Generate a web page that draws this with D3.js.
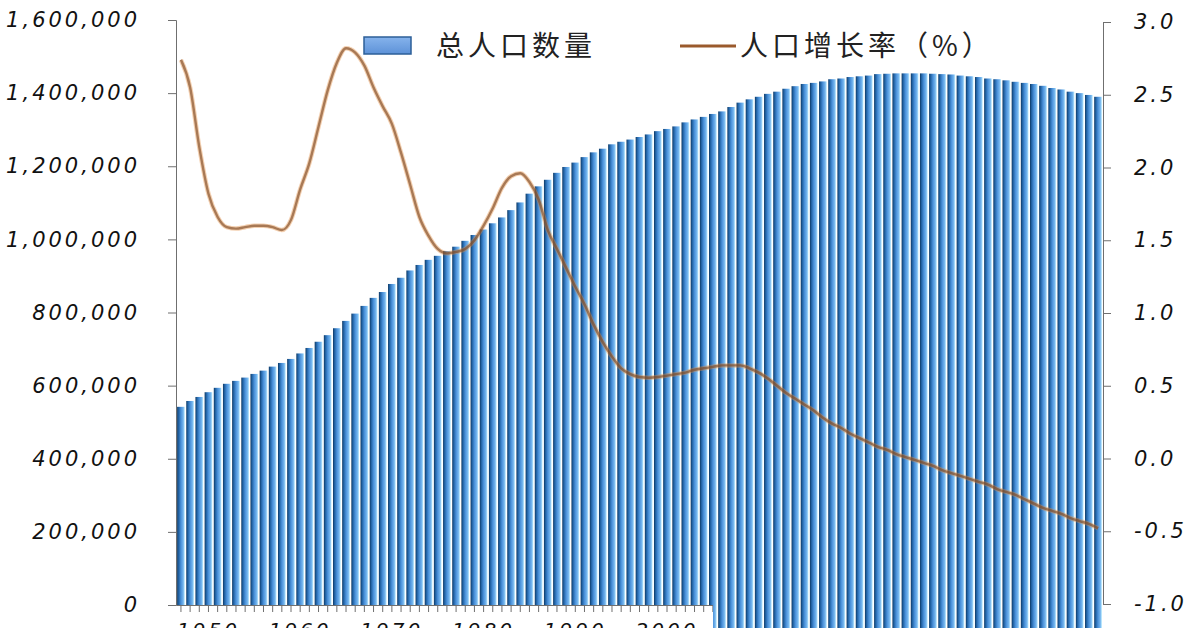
<!DOCTYPE html>
<html>
<head>
<meta charset="utf-8">
<script src="https://cdn.jsdelivr.net/npm/d3@7"></script>
<style>
  body { margin: 0; background: #fff; }
  .tick text { font-family: "DejaVu Sans", sans-serif; font-style: italic; fill: #111; }
</style>
</head>
<body>
<div id="chart"></div>
<script>
// years on the x axis
var years = d3.range(1950, 2051);

// total population (bars, left axis)
var population = [
  542000, 558000, 569000, 582000, 594000, 605000, 613000, 622000, 632000, 641000,
  652000, 662000, 673000, 688000, 703000, 720000, 738000, 757000, 777000, 797000,
  818000, 840000, 856000, 878000, 895000, 915000, 930000, 944000, 955000, 968000,
  980000, 996000, 1012000, 1027000, 1044000, 1060000, 1080000, 1101000, 1125000, 1145000,
  1163000, 1182000, 1198000, 1210000, 1225000, 1238000, 1248000, 1260000, 1267000, 1273000,
  1280000, 1287000, 1296000, 1302000, 1309000, 1320000, 1328000, 1335000, 1343000, 1350000,
  1362000, 1374000, 1383000, 1390000, 1398000, 1404000, 1412000, 1419000, 1425000, 1428000,
  1432000, 1438000, 1440000, 1444000, 1446000, 1448000, 1452000, 1453000, 1454000, 1454000,
  1454000, 1454000, 1453000, 1452000, 1451000, 1448000, 1446000, 1444000, 1440000, 1438000,
  1435000, 1431000, 1428000, 1425000, 1420000, 1414000, 1410000, 1404000, 1400000, 1395000,
  1390000
];

// population growth rate in % (line, right axis)
var growthRate = [
  2.74, 2.55, 2.14, 1.82, 1.66, 1.59, 1.58, 1.59, 1.60, 1.60,
  1.59, 1.57, 1.64, 1.85, 2.03, 2.28, 2.53, 2.72, 2.82, 2.79,
  2.70, 2.55, 2.42, 2.30, 2.10, 1.88, 1.66, 1.53, 1.44, 1.41,
  1.42, 1.44, 1.50, 1.60, 1.72, 1.86, 1.94, 1.96, 1.90, 1.78,
  1.57, 1.44, 1.31, 1.18, 1.06, 0.92, 0.80, 0.70, 0.62, 0.58,
  0.56, 0.555, 0.56, 0.57, 0.58, 0.59, 0.61, 0.62, 0.63, 0.64,
  0.64, 0.64, 0.62, 0.59, 0.55, 0.50, 0.45, 0.41, 0.37, 0.33,
  0.28, 0.24, 0.21, 0.17, 0.14, 0.11, 0.08, 0.06, 0.03, 0.01,
  -0.01, -0.03, -0.05, -0.08, -0.10, -0.12, -0.14, -0.16, -0.18, -0.21,
  -0.23, -0.25, -0.28, -0.31, -0.34, -0.36, -0.38, -0.41, -0.43, -0.45,
  -0.48
];

var leftTicks = [0, 200000, 400000, 600000, 800000, 1000000, 1200000, 1400000, 1600000];
var rightTicks = [-1.0, -0.5, 0.0, 0.5, 1.0, 1.5, 2.0, 2.5, 3.0];
var yearLabels = [1950, 1960, 1970, 1980, 1990, 2000];
var legendLabels = ["总人口数量", "人口增长率（%）"];

var W = 1200, H = 628;
var plotLeft = 176, plotRight = 1103, plotTop = 20, plotBottom = 605;

var svg = d3.select("#chart").append("svg")
  .attr("width", W)
  .attr("height", H);

var defs = svg.append("defs");

// gradient used for each bar (dark edge -> light edge)
var grad = defs.append("linearGradient").attr("id", "barGrad")
  .attr("x1", "0%").attr("x2", "100%").attr("y1", "0%").attr("y2", "0%");
grad.append("stop").attr("offset", "0%").attr("stop-color", "#0c3660");
grad.append("stop").attr("offset", "18%").attr("stop-color", "#1e5e9e");
grad.append("stop").attr("offset", "50%").attr("stop-color", "#4a91da");
grad.append("stop").attr("offset", "80%").attr("stop-color", "#76b6ee");
grad.append("stop").attr("offset", "100%").attr("stop-color", "#c4f0ff");

var legGrad = defs.append("linearGradient").attr("id", "legGrad")
  .attr("x1", "0%").attr("x2", "0%").attr("y1", "0%").attr("y2", "100%");
legGrad.append("stop").attr("offset", "0%").attr("stop-color", "#86b3ec");
legGrad.append("stop").attr("offset", "100%").attr("stop-color", "#5d92d8");

defs.append("clipPath").attr("id", "xclip")
  .append("rect").attr("x", 0).attr("y", 0).attr("width", 713).attr("height", H);

// scales
var x = d3.scaleBand().domain(years).range([plotLeft, plotRight])
  .paddingInner(0.16).paddingOuter(0.12);
var yL = d3.scaleLinear().domain([0, 1600000]).range([plotBottom, plotTop]);
var yR = d3.scaleLinear().domain([-1, 3]).range([plotBottom - 1, 22]);

// bars (they run down to the bottom of the picture, the left part is masked below)
svg.append("g").selectAll("rect")
  .data(population)
  .join("rect")
  .attr("x", function (d, i) { return x(years[i]); })
  .attr("y", function (d) { return yL(d); })
  .attr("width", x.bandwidth())
  .attr("height", function (d) { return H - yL(d); })
  .attr("fill", "url(#barGrad)");

// white strip under the x axis on the left part
svg.append("rect")
  .attr("x", 0).attr("y", plotBottom + 1)
  .attr("width", 713).attr("height", H - plotBottom)
  .attr("fill", "#fff");

// growth rate line
var line = d3.line()
  .x(function (d, i) { return x(years[i]) + x.bandwidth() / 2; })
  .y(function (d) { return yR(d); })
  .curve(d3.curveMonotoneX);

svg.append("path")
  .datum(growthRate)
  .attr("d", line)
  .attr("fill", "none")
  .attr("stroke", "#e08a3c")
  .attr("stroke-width", 4.5)
  .attr("stroke-opacity", 0.4);

svg.append("path")
  .datum(growthRate)
  .attr("d", line)
  .attr("fill", "none")
  .attr("stroke", "#7f4a24")
  .attr("stroke-width", 2.4)
  .attr("stroke-opacity", 0.65);

// left axis
var gL = svg.append("g")
  .attr("transform", "translate(" + plotLeft + ",0)")
  .call(d3.axisLeft(yL).tickValues(leftTicks).tickFormat(d3.format(","))
    .tickSize(8).tickSizeOuter(8).tickPadding(28));
gL.selectAll(".tick text").style("font-size", "21px").style("letter-spacing", "3px");

// right axis
var gR = svg.append("g")
  .attr("transform", "translate(" + plotRight + ",0)")
  .call(d3.axisRight(yR).tickValues(rightTicks)
    .tickFormat(function (d) { return d3.format(".1f")(d).replace("−", "-"); })
    .tickSize(8).tickSizeOuter(8).tickPadding(23));
gR.selectAll(".tick text").style("font-size", "21px").style("letter-spacing", "3px");

// x axis (only the left part is visible, labels run off the bottom edge)
var gX = svg.append("g")
  .attr("clip-path", "url(#xclip)")
  .attr("transform", "translate(0," + plotBottom + ")")
  .call(d3.axisBottom(x)
    .tickFormat(function (d) { return yearLabels.indexOf(d) >= 0 ? d : ""; })
    .tickSize(7).tickSizeOuter(0).tickPadding(11));
gX.selectAll(".tick text").style("font-size", "20px").style("letter-spacing", "3px")
  .attr("text-anchor", "start").attr("dx", "-4px");

svg.selectAll(".domain, .tick line").attr("stroke", "#6f6f6f");

// legend
var leg = svg.append("g").style("font-family", "'Noto Sans CJK SC', sans-serif");
leg.append("rect")
  .attr("x", 364).attr("y", 37).attr("width", 47).attr("height", 17)
  .attr("fill", "url(#legGrad)").attr("stroke", "#2c5f98").attr("stroke-width", 1.5);
leg.append("text")
  .attr("x", 436).attr("y", 56)
  .style("font-size", "28px").style("letter-spacing", "4px").style("fill", "#222")
  .text(legendLabels[0]);
leg.append("line")
  .attr("x1", 680).attr("x2", 736).attr("y1", 46).attr("y2", 46)
  .attr("stroke", "#9a5a2c").attr("stroke-width", 3);
leg.append("text")
  .attr("x", 740).attr("y", 56)
  .style("font-size", "28px").style("letter-spacing", "4px").style("fill", "#222")
  .text(legendLabels[1]);
</script>
</body>
</html>
